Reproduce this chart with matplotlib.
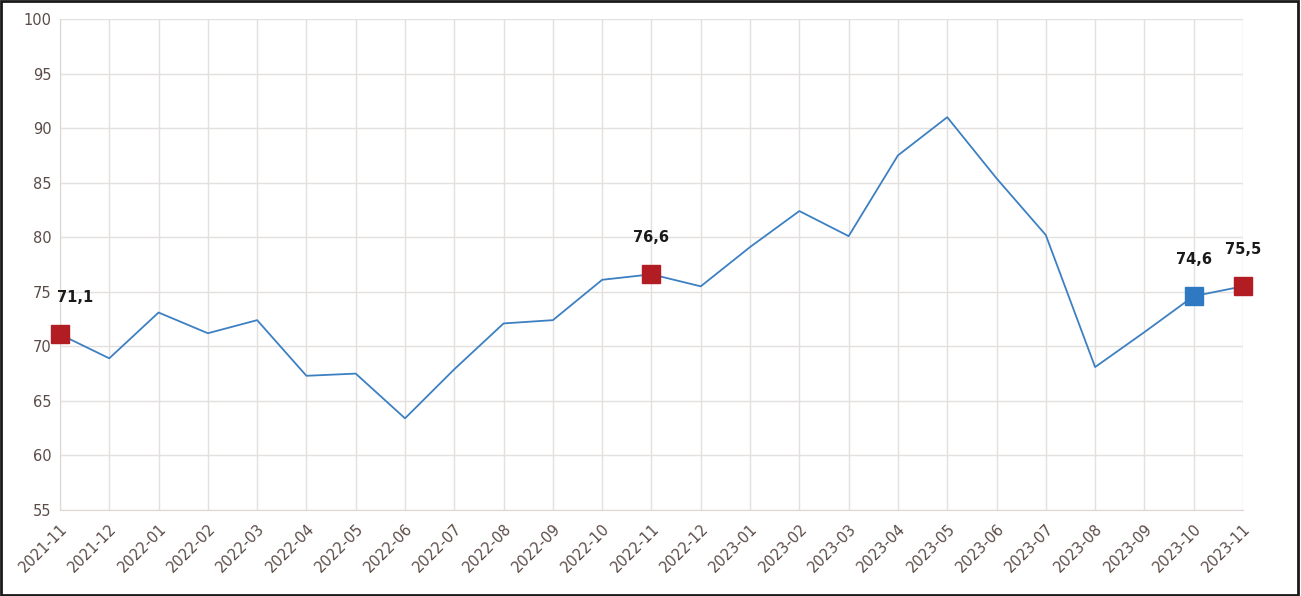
import matplotlib as mpl
mpl.use('Agg')
import matplotlib.pyplot as plt
from matplotlib.patches import Rectangle

# data
months = ['2021-11', '2021-12', '2022-01', '2022-02', '2022-03', '2022-04', '2022-05',
          '2022-06', '2022-07', '2022-08', '2022-09', '2022-10', '2022-11', '2022-12',
          '2023-01', '2023-02', '2023-03', '2023-04', '2023-05', '2023-06', '2023-07',
          '2023-08', '2023-09', '2023-10', '2023-11']
values = [71.1, 68.9, 73.1, 71.2, 72.4, 67.3, 67.5, 63.4, 67.9, 72.1, 72.4, 76.1, 76.6,
          75.5, 79.1, 82.4, 80.1, 87.5, 91.0, 85.4, 80.2, 68.1, 71.3, 74.6, 75.5]
red_idx = [0, 12, 24]
blue_idx = [23]
yticks = [55, 60, 65, 70, 75, 80, 85, 90, 95, 100]

txt_col = '#5b4c47'
grid_col = '#e4e0de'

fig = plt.figure(figsize=(13.01, 5.96), dpi=100)
ax = fig.add_axes([0.0461, 0.1443, 0.9093, 0.8238])

x = list(range(len(months)))
ax.plot(x, values, color='#3d80c2', lw=1.3, zorder=3)
ax.plot([x[i] for i in red_idx], [values[i] for i in red_idx], 's',
        color='#b21d24', ms=13, zorder=4, clip_on=False)
ax.plot([x[i] for i in blue_idx], [values[i] for i in blue_idx], 's',
        color='#2f79c2', ms=13, zorder=4, clip_on=False)

for i in red_idx + blue_idx:
    dx = 11 if i == 0 else 0
    ax.annotate(f'{values[i]:.1f}'.replace('.', ','), (x[i], values[i]),
                xytext=(dx, 21), textcoords='offset points', ha='center',
                va='bottom', fontsize=10.5, fontweight='bold', color='#1a1a1a')

ax.set_xlim(0, len(months) - 1)
ax.set_ylim(55, 100)
ax.set_yticks(yticks)
ax.set_xticks(x)
ax.set_xticklabels(months, rotation=45, ha='right', rotation_mode='anchor')
ax.tick_params(axis='both', colors=txt_col, labelsize=10.5, length=0, pad=6)
ax.tick_params(axis='x', pad=8)
ax.grid(True, color=grid_col, lw=1)
for s in ['top', 'right']:
    ax.spines[s].set_visible(False)
for s in ['left', 'bottom']:
    ax.spines[s].set_color('#ddd6d3')

fig.patches.append(Rectangle((0.001, 0.002), 0.997, 0.996, transform=fig.transFigure,
                             fill=False, edgecolor='#1a1a1a', lw=2))

fig.savefig('out.png', dpi=100)
